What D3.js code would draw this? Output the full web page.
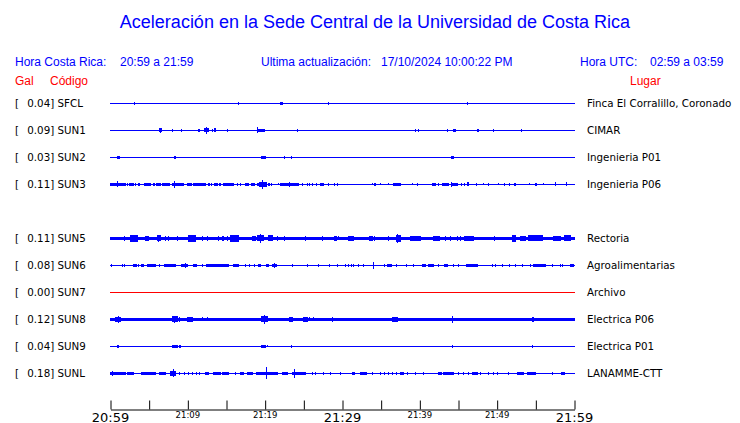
<!DOCTYPE html>
<html><head><meta charset="utf-8">
<script src="https://cdn.jsdelivr.net/npm/d3@7/dist/d3.min.js"></script>
<style>
html,body{margin:0;padding:0;background:#fff;}
svg{display:block;}
</style></head>
<body>
<svg id="chart" width="740" height="423"></svg>
<script>
// ---------- DATA ----------
const title = "Aceleración en la Sede Central de la Universidad de Costa Rica";
const horaCR = "20:59 a 21:59";
const horaUTC = "02:59 a 03:59";
const actualizacion = "17/10/2024 10:00:22 PM";

const codes  = ["SFCL","SUN1","SUN2","SUN3","SUN5","SUN6","SUN7","SUN8","SUN9","SUNL"];
const slots  = [0,1,2,3,5,6,7,8,9,10];
const gal    = [0.04,0.09,0.03,0.11,0.11,0.08,0.00,0.12,0.04,0.18];
const places = ["Finca El Corralillo, Coronado","CIMAR","Ingenieria P01","Ingenieria P06",
                "Rectoria","Agroalimentarias","Archivo","Electrica P06","Electrica P01","LANAMME-CTT"];
// background noise amplitude of each trace
const noise  = [0.6,0.65,0.65,0.55,1.5,0.55,0.5,1.2,0.6,0.65];
const active = [true,true,true,true,true,true,false,true,true,true];

// bursts: [start minute, end minute, amplitude]
const evSFCL = [[3.15,3.15,1.5],[4.18,4.18,0.8],[16.6,16.6,1.5],[22.0,22.2,1.5],[28.15,28.15,1.3],[28.58,28.58,0.8],[46.2,46.2,1.5]];
const evSUN1 = [[6.4,6.6,2],[6.47,6.47,2.7],[7.97,7.97,1.3],[8.58,8.58,0.8],[9.14,9.14,1.3],[11.35,11.5,1.5],[12.1,12.72,2],[12.41,12.41,3.5],[13.15,13.15,1.3],[13.4,13.6,2],[15.17,15.17,1.3],[18.97,19.96,1.8],[19.05,19.05,3],[24.22,24.22,1.3],[33.79,33.79,0.8],[35.34,35.34,0.8],[39.48,39.48,1.3],[39.83,39.83,1.3],[43.62,43.62,1.3],[44.3,44.55,1.5],[46.85,46.85,0.8],[47.4,47.65,1.5],[49.57,49.57,1.3],[53.19,53.19,1.3],[56.68,56.68,0.8]];
const evSUN2 = [[0.9,1.1,1.5],[8.25,8.45,1.5],[10.9,10.9,0.8],[19.53,20.04,1.7],[22.54,22.54,1.3],[23.45,23.45,1.3],[44.1,44.3,1.3]];
const evSUN3 = [[0,1.5,1.7],[0.95,0.95,3],[1.72,1.94,1.3],[2.16,2.2,1.3],[2.46,3.0,1.5],[3.23,3.23,1.3],[3.66,3.7,1.3],[4.44,5.17,1.7],[5.6,5.65,1.3],[5.9,6.47,1.3],[6.77,7.33,1.3],[7.54,7.58,1.3],[7.97,9.48,1.7],[8.32,8.32,3.3],[9.91,10.47,1.3],[10.78,12.28,1.7],[12.72,12.76,1.3],[13.06,13.1,1.3],[13.4,13.79,1.3],[14.14,14.18,1.3],[14.66,15.95,1.7],[16.38,16.42,1.3],[16.81,16.85,1.3],[17.46,17.89,1.7],[18.23,18.66,1.7],[18.97,19.27,1.3],[19.31,20.17,2.3],[19.61,19.61,4.5],[20.47,20.5,1.3],[20.78,20.78,1.3],[21.77,21.77,1],[21.98,24.14,1.5],[23.19,23.19,2.5],[24.35,24.35,1.3],[24.78,24.78,1.3],[25.43,25.43,1.3],[25.73,25.73,1.3],[26.16,26.16,1.3],[26.6,26.6,1.3],[27.16,27.59,1.3],[28.15,28.15,1.3],[28.97,28.97,1.3],[29.31,29.31,1.3],[33.84,33.84,1],[34.1,34.25,1.7],[34.91,34.91,1],[35.99,35.99,1],[36.64,37.5,1.7],[39.09,39.09,1],[39.66,39.66,1.3],[41.6,42.03,1.5],[42.37,42.37,1.3],[42.97,43.75,1.7],[44.1,44.1,2.5],[44.18,44.83,1.5],[45.39,45.39,1.3],[45.82,45.82,1.3],[46.2,46.3,2],[47.28,47.28,1.3],[48.28,48.28,1],[48.92,48.92,1.3],[50.22,50.22,1],[51.0,51.0,1.3],[51.64,51.64,1.3],[52.2,52.35,1.7],[54.18,54.18,1],[54.9,55.05,1.5],[56.03,56.03,1],[57.54,57.54,2],[58.97,58.97,2]];
const evSUN5 = [[1.85,1.85,2.7],[2.59,3.45,3.3],[4.53,4.96,2.3],[6.03,6.47,3],[6.16,6.16,3.5],[7.11,7.11,2.3],[7.54,7.54,2.3],[8.62,8.62,2.3],[10.13,10.99,3.7],[11.85,11.85,2.5],[12.5,12.5,2.5],[14.0,14.0,2.3],[14.44,14.66,2.3],[15.09,15.09,2.3],[15.52,16.6,3.7],[18.32,18.75,2.5],[18.97,19.83,3],[19.4,19.4,4.5],[20.47,20.9,3],[21.55,21.55,2.3],[22.5,22.5,2.7],[25.2,25.2,2.3],[27.37,27.37,2.3],[29.0,29.2,2.7],[29.5,29.5,2],[30.73,31.47,2.8],[33.49,33.84,2.3],[34.18,34.18,2.7],[35.99,35.99,2.3],[36.98,37.5,3.3],[37.05,37.05,4.5],[38.79,40.09,2.8],[41.81,42.59,2.3],[43.32,43.32,2.3],[43.97,43.97,2.3],[44.83,44.83,2.3],[45.26,45.26,2.3],[45.82,46.98,2.8],[49.7,49.7,2.3],[51.94,52.37,3.3],[53.02,53.66,2.5],[54.1,55.82,3],[57.33,58.19,2.8],[58.75,59.48,3]];
const evSUN6 = [[0.13,0.13,1.3],[0.73,0.73,0.8],[1.59,1.59,1.3],[1.85,1.85,1.3],[3.02,3.32,1.3],[3.66,3.66,1.3],[4.0,4.31,1.3],[4.74,5.82,1.3],[6.34,6.34,1.3],[7.03,8.4,1.3],[9.18,9.91,1.7],[9.7,9.7,2.7],[10.78,11.08,1.3],[11.85,11.85,1.3],[12.41,15.3,1.3],[15.86,16.51,1.3],[17.46,17.46,1.3],[18.02,18.02,1.3],[18.66,18.66,1.3],[19.09,19.4,1.3],[20.17,20.47,1.3],[20.9,21.47,1.7],[21.2,21.2,2.3],[23.49,23.49,1.3],[25.43,25.5,1.3],[26.85,26.95,1.3],[28.36,28.36,1.3],[29.4,29.4,1.3],[30.39,30.39,1.3],[30.73,30.73,1.3],[31.12,31.12,1.3],[31.47,31.47,1.3],[32.11,32.11,1.3],[32.76,32.76,1.3],[34.05,34.05,3.3],[35.47,35.47,1.3],[35.78,36.34,1.3],[36.94,36.94,1.3],[38.28,38.28,1.3],[39.22,39.22,1.3],[40.39,40.73,1.3],[41.08,41.81,1.3],[42.46,42.46,1.3],[43.23,43.53,1.3],[44.4,44.4,1.3],[44.96,44.96,1.3],[45.99,47.41,1.3],[49.35,49.35,1.3],[49.78,49.78,1.3],[50.65,50.65,1.3],[51.64,51.64,1.3],[52.37,52.37,1.3],[53.23,53.23,1.3],[54.31,54.31,1.3],[54.66,56.25,1.3],[57.11,57.11,1.3],[58.19,58.19,1.3],[58.49,58.49,1.3],[59.48,59.91,1.3]];
const evSUN7 = [];
const evSUN8 = [[0,16.72,1.6],[0.65,1.29,2.3],[0.99,0.99,3.5],[7.97,8.62,3],[8.28,8.28,3.5],[8.92,8.92,2.3],[9.91,10.65,2.5],[11.85,11.85,2],[12.5,12.5,2],[19.53,20.26,3],[19.96,19.96,4.3],[23.19,23.49,2.8],[25.0,25.43,2.8],[25.73,25.73,2],[26.29,26.29,2],[28.66,28.66,2.3],[30.3,30.3,1.7],[31.03,31.47,1.7],[31.77,32.54,1.7],[32.76,34.05,1.7],[34.18,35.99,1.7],[36.42,37.16,2.8],[38.36,38.36,1.7],[38.79,38.79,1.7],[39.87,40.22,1.7],[44.18,44.18,3.3],[45.0,45.5,1.7],[46.2,47.1,1.7],[47.9,48.4,1.7],[49.5,50.6,1.7],[51.2,52.4,1.7],[53.2,53.6,1.7],[54.53,54.74,2.8],[55.5,56.2,1.7],[57.0,57.8,1.7],[58.5,59.6,1.7]];
const evSUN9 = [[0.9,1.05,1.5],[8.06,8.62,1.5],[8.92,9.05,1.5],[19.53,20.04,1.5],[20.26,20.26,1],[22.11,22.11,0.8],[22.63,22.63,0.8],[23.4,23.4,1.5],[44.18,44.18,1.3],[54.61,54.61,1.3]];
const evSUNL = [[0,1.94,1.7],[0.22,0.22,2.5],[2.16,3.02,1.5],[4.0,5.82,1.5],[6.34,7.11,1.5],[7.76,8.41,2.5],[8.1,8.1,4],[8.92,8.92,1.3],[9.61,9.61,1.3],[10.13,10.13,1.3],[10.65,10.65,1.3],[11.08,11.08,1.3],[11.51,11.51,1.3],[12.28,12.72,1.5],[13.36,14.22,1.5],[14.53,15.3,1.5],[16.16,16.16,1.3],[16.81,17.24,1.5],[17.67,18.32,1.5],[18.88,19.61,1.7],[19.61,21.55,1.5],[20.17,20.17,6],[22.2,22.84,1.5],[23.49,25.22,1.7],[23.84,23.84,4.5],[26.08,26.08,1.3],[26.51,26.51,1.3],[27.59,27.59,1.3],[28.45,28.45,1.3],[29.74,29.74,1.3],[31.25,31.59,1.5],[32.33,33.06,1.8],[33.84,33.84,1.3],[34.91,34.91,1.3],[35.47,35.47,1.3],[35.99,35.99,1.3],[36.51,36.51,1.3],[36.94,36.94,1.3],[37.5,37.85,1.5],[38.36,38.36,1.3],[39.44,39.44,1.3],[40.52,40.52,1.3],[42.46,42.8,1.5],[43.1,44.4,1.7],[45.04,45.04,1.3],[45.69,45.69,1.3],[46.25,46.25,1.3],[46.77,47.41,1.5],[47.84,47.84,1.3],[48.92,48.92,1.3],[49.57,49.57,1.3],[50.0,50.0,1.3],[51.51,51.51,1.3],[52.59,53.45,1.5],[53.88,55.0,1.5],[57.11,57.11,1.3],[58.32,58.75,1.5]];
const events = [evSFCL,evSUN1,evSUN2,evSUN3,evSUN5,evSUN6,evSUN7,evSUN8,evSUN9,evSUNL];

const tickMinutes = [0,5,10,15,20,25,30,35,40,45,50,55,60];
const labelMinutes = [0,10,20,30,40,50,60];
const tickLabels = ["20:59","21:09","21:19","21:29","21:39","21:49","21:59"];
const bigLabels = ["20:59","21:29","21:59"];

// ---------- DRAW ----------
const BLUE = "#0000ff", RED = "#ff0000";
const svg = d3.select("#chart");
const x = d3.scaleLinear().domain([0,60]).range([110.5,574.5]);
const row = d3.scaleLinear().domain([0,10]).range([103.3,373.3]);
const amp = d3.scaleLinear().domain([0,1]).range([0,1]);

const HF = "'Liberation Sans', Arial, sans-serif";
const LF = "'DejaVu Sans', sans-serif";

svg.append("text").attr("x",375).attr("y",28).attr("text-anchor","middle")
  .attr("font-family",HF).attr("font-size",18).attr("fill",BLUE).text(title);

const hdr = svg.append("g").attr("font-family",HF).attr("font-size",12).attr("fill",BLUE);
hdr.append("text").attr("x",15).attr("y",65.5).text("Hora Costa Rica:");
hdr.append("text").attr("x",120).attr("y",65.5).text(horaCR);
hdr.append("text").attr("x",261).attr("y",65.5).text("Ultima actualización:");
hdr.append("text").attr("x",381).attr("y",65.5).text(actualizacion);
hdr.append("text").attr("x",580).attr("y",65.5).text("Hora UTC:");
hdr.append("text").attr("x",650).attr("y",65.5).text(horaUTC);

const sub = svg.append("g").attr("font-family",HF).attr("font-size",12).attr("fill",RED);
sub.append("text").attr("x",15).attr("y",85).text("Gal");
sub.append("text").attr("x",50).attr("y",85).text("Código");
sub.append("text").attr("x",630).attr("y",85).text("Lugar");

codes.forEach((c,i)=>{
  const cy = row(slots[i]);
  const g = svg.append("g");
  g.append("text").attr("x",15).attr("y",cy+4).attr("font-family",LF).attr("font-size",10.3).attr("fill","#000").text("[");
  g.append("text").attr("x",27.3).attr("y",cy+4).attr("font-family",LF).attr("font-size",10.3).attr("fill","#000")
    .text(gal[i].toFixed(2)+"] "+c);
  g.append("text").attr("x",587).attr("y",cy+4).attr("font-family",LF).attr("font-size",10.3).attr("fill","#000").text(places[i]);
  const col = active[i] ? BLUE : RED;
  const tr = g.append("g").attr("fill",col).attr("shape-rendering","crispEdges");
  const base = noise[i];
  tr.append("rect").attr("x",x(0)-0.5).attr("width",x(60)-x(0)+1)
    .attr("y",cy-amp(base)).attr("height",Math.max(1,2*amp(base)));
  tr.selectAll("rect.ev").data(events[i]).join("rect").attr("class","ev")
    .attr("x",d=>x(d[0])-0.5)
    .attr("width",d=>Math.max(1,x(d[1])-x(d[0])+1))
    .attr("y",d=>cy-amp(d[2]))
    .attr("height",d=>2*amp(d[2]));
});

// time axis
const axis = d3.axisTop(x).tickValues(tickMinutes).tickSize(9).tickSizeOuter(0).tickFormat("");
const ag = svg.append("g").attr("transform","translate(0,409.5)").call(axis);
ag.select(".domain").attr("stroke","#000");
ag.selectAll(".tick line").attr("stroke","#000");

svg.append("g").selectAll("text").data(labelMinutes).join("text")
  .attr("x",d=>x(d)).attr("text-anchor","middle")
  .attr("y",(d,i)=>bigLabels.includes(tickLabels[i]) ? 421.5 : 418)
  .attr("font-family",LF)
  .attr("font-size",(d,i)=>bigLabels.includes(tickLabels[i]) ? 13 : 8.5)
  .attr("fill","#000")
  .text((d,i)=>tickLabels[i]);
</script>
</body></html>
